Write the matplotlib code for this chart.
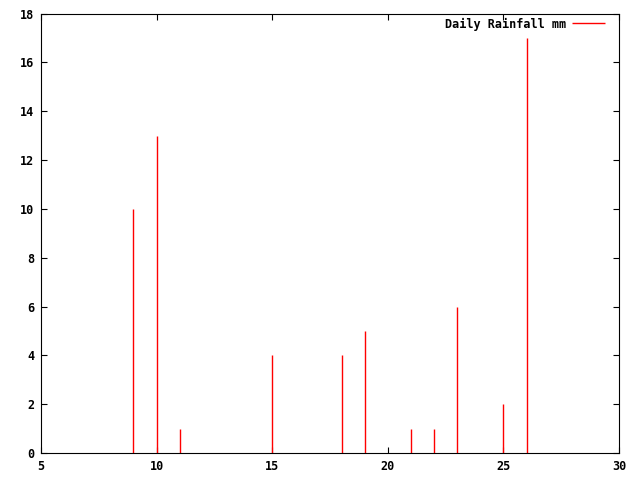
import matplotlib
matplotlib.use("Agg")
import matplotlib.pyplot as plt

# daily rainfall, mm
days = [9, 10, 11, 15, 18, 19, 21, 22, 23, 25, 26]
rain_mm = [10, 13, 1, 4, 4, 5, 1, 1, 6, 2, 17]
x_ticks = [5, 10, 15, 20, 25, 30]
y_ticks = [0, 2, 4, 6, 8, 10, 12, 14, 16, 18]

plt.rcParams["font.family"] = "DejaVu Sans Mono"
plt.rcParams["font.weight"] = "bold"
plt.rcParams["font.size"] = 8.5

fig = plt.figure(figsize=(6.4, 4.8), dpi=100)
ax = fig.add_axes([41 / 640, 27 / 480, 578 / 640, 439.5 / 480])

ax.vlines(days, 0, rain_mm, colors="#ff0000", linewidth=1.0, label="Daily Rainfall mm")

ax.set_xlim(5, 30)
ax.set_ylim(0, 18)
ax.set_xticks(x_ticks)
ax.set_yticks(y_ticks)
ax.tick_params(direction="in", length=4.0, width=0.8, top=True, right=True, pad=5)
for s in ax.spines.values():
    s.set_linewidth(0.8)

leg = ax.legend(loc="upper right", bbox_to_anchor=(0.9758, 0.991), frameon=False,
                markerfirst=False, borderpad=0, borderaxespad=0,
                handlelength=2.8, handletextpad=0.5)

fig.savefig("out.png", dpi=100)
